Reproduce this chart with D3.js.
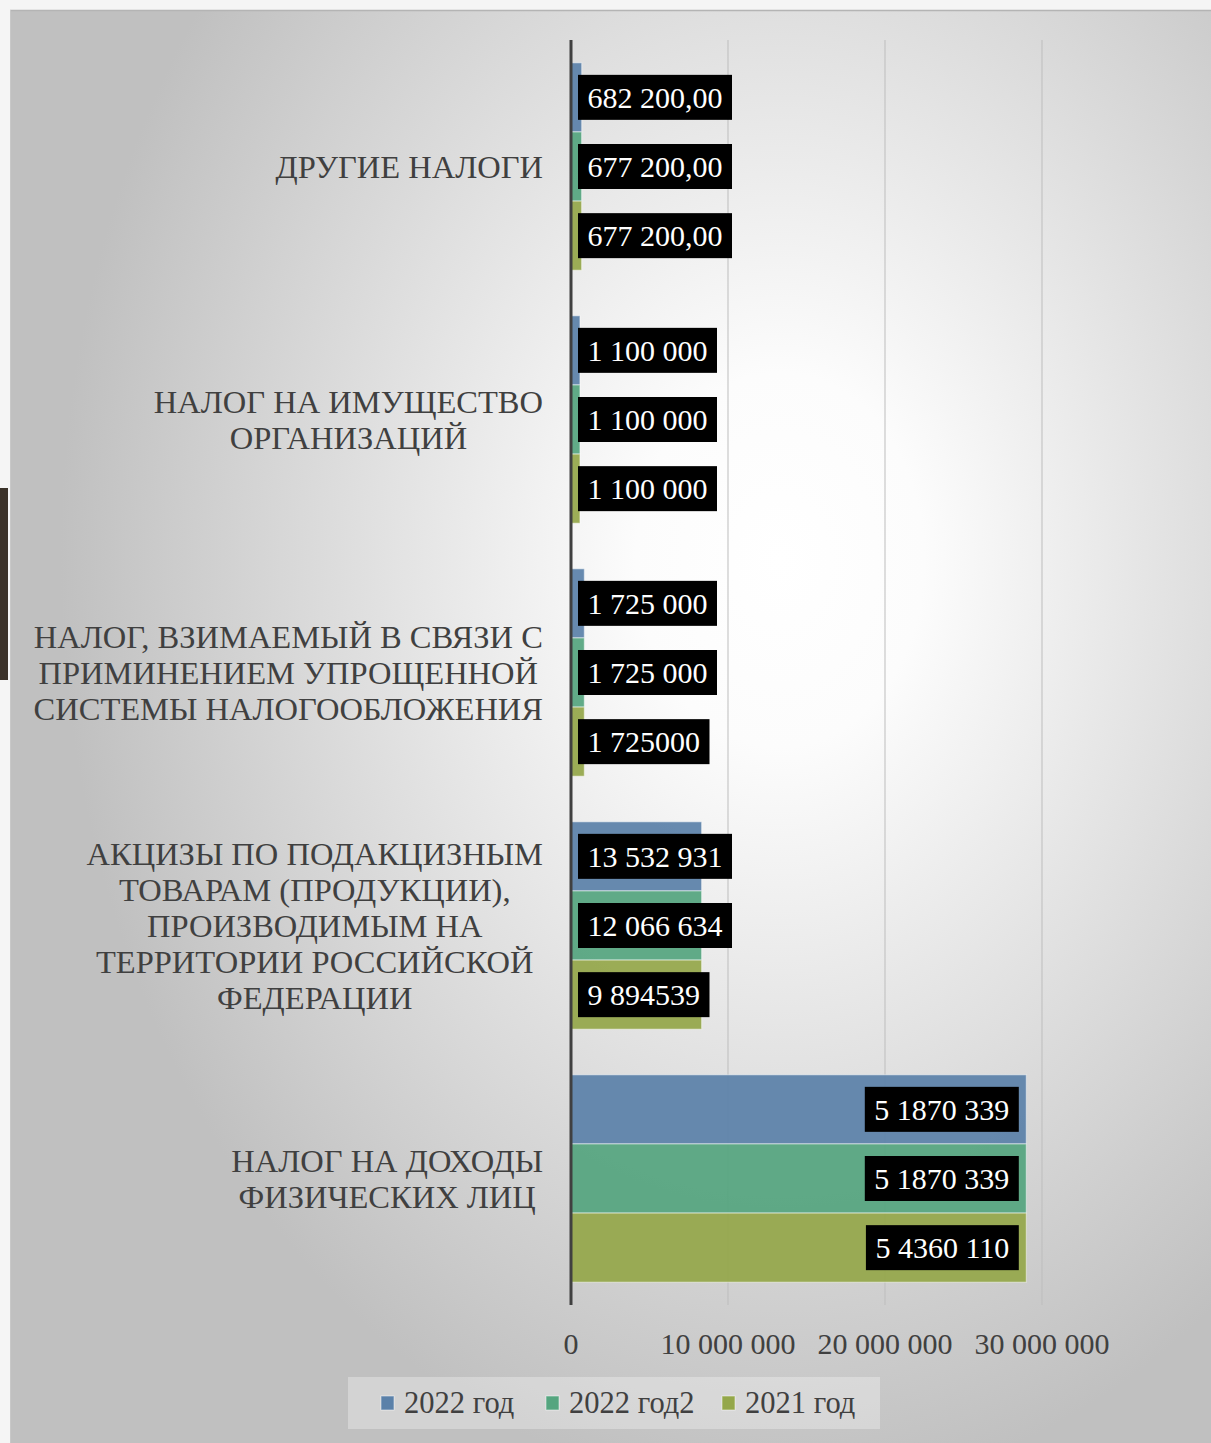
<!DOCTYPE html>
<html><head><meta charset="utf-8">
<script src="https://cdn.jsdelivr.net/npm/d3@7"></script>
<style>body{margin:0;background:#f5f5f5;overflow:hidden}</style>
</head><body>
<svg id="c" width="1211" height="1443"></svg>
<script>
const categories = [
  ["ДРУГИЕ НАЛОГИ"],
  ["НАЛОГ НА ИМУЩЕСТВО", "ОРГАНИЗАЦИЙ"],
  ["НАЛОГ, ВЗИМАЕМЫЙ В СВЯЗИ С", "ПРИМИНЕНИЕМ УПРОЩЕННОЙ", "СИСТЕМЫ НАЛОГООБЛОЖЕНИЯ"],
  ["АКЦИЗЫ ПО ПОДАКЦИЗНЫМ", "ТОВАРАМ (ПРОДУКЦИИ),", "ПРОИЗВОДИМЫМ НА", "ТЕРРИТОРИИ РОССИЙСКОЙ", "ФЕДЕРАЦИИ"],
  ["НАЛОГ НА ДОХОДЫ", "ФИЗИЧЕСКИХ ЛИЦ"]
];
const seriesNames = ["2022 год", "2022 год2", "2021 год"];
const seriesColors = ["#5b81a9", "#55a57f", "#94a74a"];
// bar lengths as drawn
const values2022  = [682200, 570000, 850000, 8320000, 29000000];
const values2022b = [677200, 570000, 850000, 8320000, 29000000];
const values2021  = [677200, 570000, 850000, 8320000, 29000000];
// data label texts as shown
const labels2022  = ["682 200,00", "1 100 000", "1 725 000", "13 532 931", "5 1870 339"];
const labels2022b = ["677 200,00", "1 100 000", "1 725 000", "12 066 634", "5 1870 339"];
const labels2021  = ["677 200,00", "1 100 000", "1 725000", "9 894539", "5 4360 110"];
const tickValues = [0, 10000000, 20000000, 30000000];
const tickLabels = ["0", "10 000 000", "20 000 000", "30 000 000"];

const series = [
  {name: seriesNames[0], values: values2022, labels: labels2022},
  {name: seriesNames[1], values: values2022b, labels: labels2022b},
  {name: seriesNames[2], values: values2021, labels: labels2021}
];

const svg = d3.select("#c");
const FONT = "'Liberation Serif','DejaVu Serif',serif";
const defs = svg.append("defs");
const rg = defs.append("radialGradient").attr("id", "bg")
  .attr("gradientUnits", "userSpaceOnUse")
  .attr("cx", 780).attr("cy", 560).attr("r", 720)
  .attr("gradientTransform", "translate(780,560) scale(1,1.3) translate(-780,-560)");
rg.append("stop").attr("offset", 0).attr("stop-color", "#ffffff");
rg.append("stop").attr("offset", 0.2).attr("stop-color", "#fcfcfc");
rg.append("stop").attr("offset", 1).attr("stop-color", "#c0c0c0");

// outer frame
svg.append("rect").attr("x", 0).attr("y", 0).attr("width", 1211).attr("height", 1443).attr("fill", "#f5f5f5");
svg.append("rect").attr("x", 0).attr("y", 488).attr("width", 8).attr("height", 192).attr("fill", "#3b3229");
svg.append("rect").attr("x", 10).attr("y", 10).attr("width", 1201).attr("height", 1433).attr("fill", "url(#bg)");
svg.append("line").attr("x1", 10).attr("x2", 1211).attr("y1", 10.5).attr("y2", 10.5).attr("stroke", "#b4b4b4").attr("stroke-width", 1.5);
svg.append("line").attr("x1", 10.5).attr("x2", 10.5).attr("y1", 10).attr("y2", 1443).attr("stroke", "#c8c8c8").attr("stroke-width", 1);

const x = d3.scaleLinear().domain([0, 30000000]).range([571, 1042]);
const y = d3.scaleBand().domain(d3.range(categories.length)).range([40, 1305]).paddingInner(0.18).paddingOuter(0.09);
const ys = d3.scaleBand().domain(d3.range(series.length)).range([0, y.bandwidth()]);

// gridlines
svg.append("g").selectAll("line").data(tickValues.slice(1)).join("line")
  .attr("x1", d => x(d)).attr("x2", d => x(d)).attr("y1", 40).attr("y2", 1305)
  .attr("stroke", "#bdbdbd").attr("stroke-width", 1);

// bars
const g = svg.append("g");
series.forEach((s, si) => {
  g.append("g").selectAll("rect").data(s.values).join("rect")
    .attr("x", x(0)).attr("y", (d, i) => y(i) + ys(si))
    .attr("width", d => x(d) - x(0)).attr("height", ys.bandwidth())
    .attr("fill", seriesColors[si]).attr("fill-opacity", 0.93)
    .attr("stroke", "#ffffff").attr("stroke-opacity", 0.45).attr("stroke-width", 1.2);
});

// zero axis line
svg.append("line").attr("x1", x(0)).attr("x2", x(0)).attr("y1", 40).attr("y2", 1305)
  .attr("stroke", "#404040").attr("stroke-width", 3);

// data labels
series.forEach((s, si) => {
  s.values.forEach((v, i) => {
    const cy = y(i) + ys(si) + ys.bandwidth() / 2;
    const lg = svg.append("g");
    const t = lg.append("text").text(s.labels[i])
      .attr("font-family", FONT).attr("font-size", 30).attr("fill", "#ffffff")
      .attr("dominant-baseline", "central").attr("y", cy);
    const w = t.node().getComputedTextLength();
    const pad = 9.5;
    let bx;
    if (x(v) - x(0) > w + 40) bx = x(v) - 7.5 - (w + 2 * pad);
    else bx = x(0) + 7;
    t.attr("x", bx + pad);
    lg.insert("rect", "text").attr("x", bx).attr("y", cy - 22.5).attr("width", w + 2 * pad).attr("height", 45).attr("fill", "#000000");
  });
});

// category labels
categories.forEach((lines, i) => {
  const cy = y(i) + y.bandwidth() / 2;
  const lh = 36;
  const tg = svg.append("g");
  const texts = lines.map((ln, k) => tg.append("text").text(ln)
    .attr("font-family", FONT).attr("font-size", 32.5).attr("fill", "#404040")
    .attr("text-anchor", "middle").attr("dominant-baseline", "central")
    .attr("y", cy + (k - (lines.length - 1) / 2) * lh));
  const maxW = d3.max(texts, t => t.node().getComputedTextLength());
  texts.forEach(t => t.attr("x", 543 - maxW / 2));
});

// tick labels
svg.append("g").selectAll("text").data(tickValues).join("text")
  .attr("x", d => x(d)).attr("y", 1343).text((d, i) => tickLabels[i])
  .attr("font-family", FONT).attr("font-size", 30).attr("fill", "#404040")
  .attr("text-anchor", "middle").attr("dominant-baseline", "central");

// legend
svg.append("rect").attr("x", 348).attr("y", 1377).attr("width", 532).attr("height", 52).attr("fill", "#ffffff").attr("fill-opacity", 0.3);
const legendX = [381, 546, 722];
series.forEach((s, si) => {
  svg.append("rect").attr("x", legendX[si]).attr("y", 1396).attr("width", 13).attr("height", 14)
    .attr("fill", seriesColors[si]).attr("stroke", "#ffffff").attr("stroke-opacity", 0.5);
  svg.append("text").attr("x", legendX[si] + 23).attr("y", 1403).text(s.name)
    .attr("font-family", FONT).attr("font-size", 30.5).attr("fill", "#404040")
    .attr("dominant-baseline", "central");
});
</script>
</body></html>
